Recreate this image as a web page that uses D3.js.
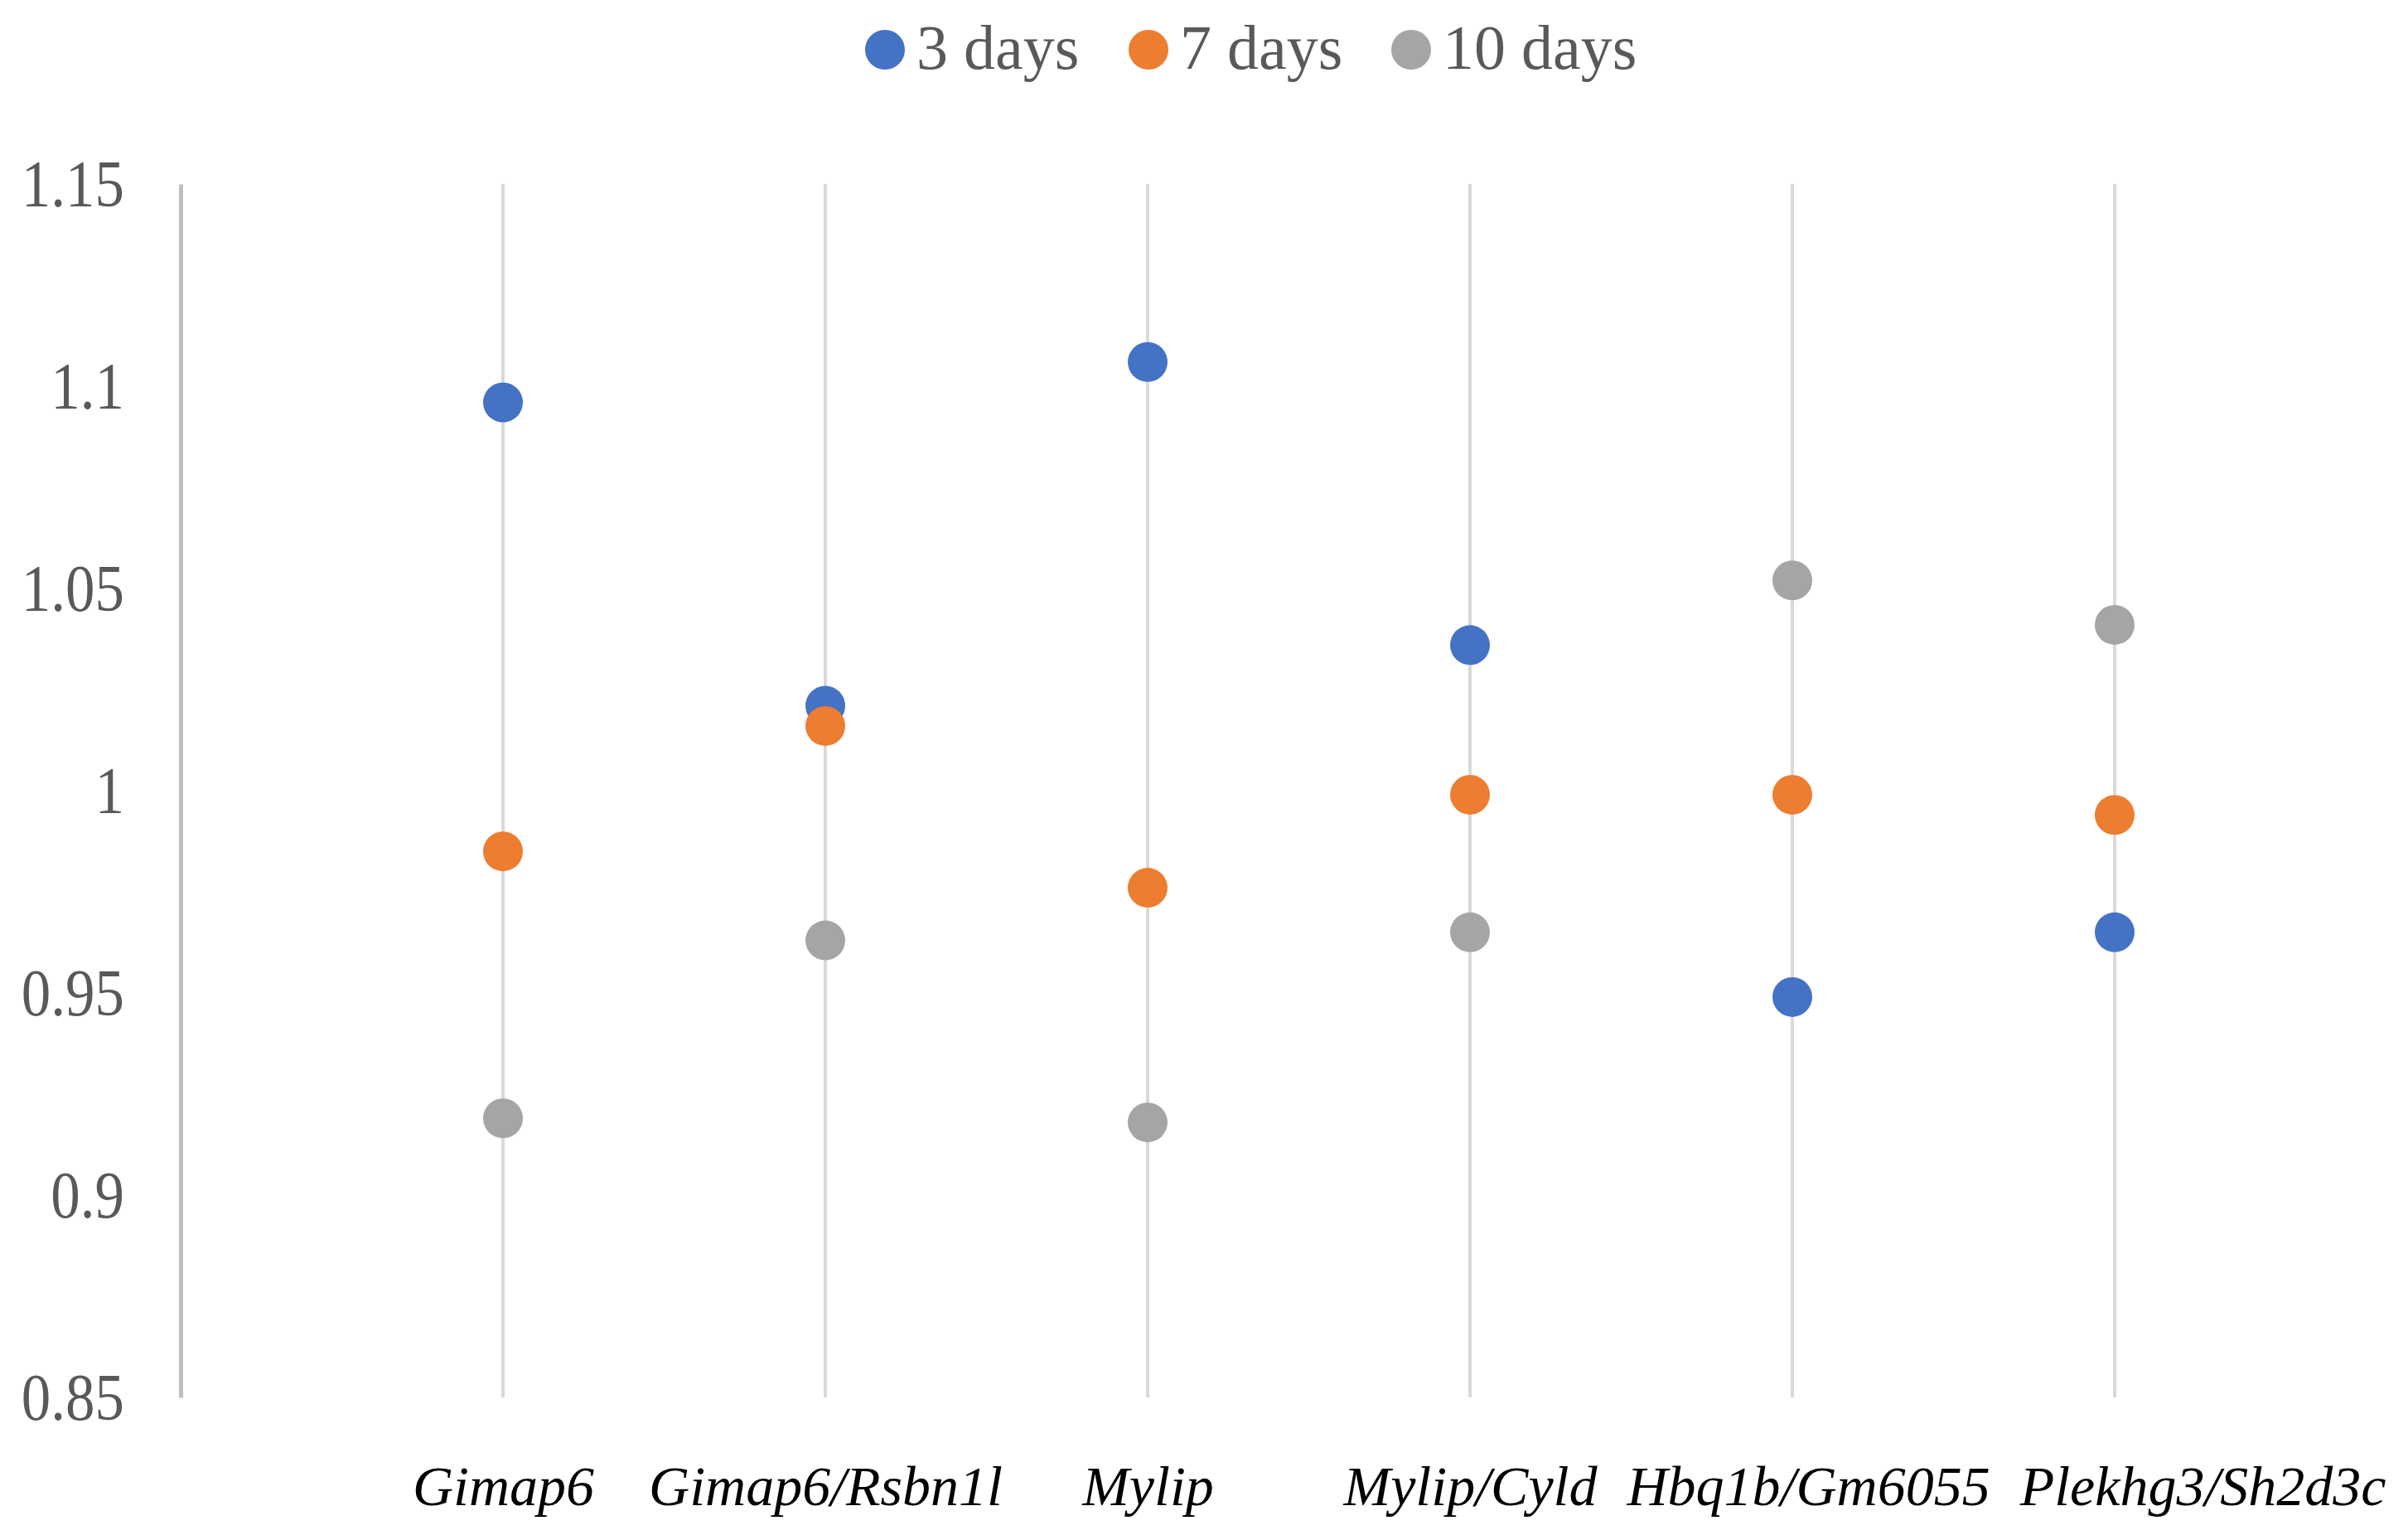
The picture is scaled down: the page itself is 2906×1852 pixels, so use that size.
<!DOCTYPE html>
<html>
<head>
<meta charset="utf-8">
<script src="https://cdn.jsdelivr.net/npm/d3@7"></script>
<style>
  html, body { margin: 0; padding: 0; background: #fff; }
  svg { display: block; }
</style>
</head>
<body>
<svg id="chart" width="2906" height="1852"></svg>
<script>
const categories = ["Gimap6", "Gimap6/Rsbn1l", "Mylip", "Mylip/Cyld", "Hbq1b/Gm6055", "Plekhg3/Sh2d3c"];
const seriesNames = ["3 days", "7 days", "10 days"];
const days3 = [1.096, 1.021, 1.106, 1.036, 0.949, 0.965];
const days7 = [0.985, 1.016, 0.976, 0.999, 0.999, 0.994];
const days10 = [0.919, 0.963, 0.918, 0.965, 1.052, 1.041];
const yTicks = [0.85, 0.9, 0.95, 1, 1.05, 1.1, 1.15];
const colors = ["#4472C4", "#ED7D31", "#A5A5A5"];

const seriesValues = [days3, days7, days10];

const svg = d3.select("#chart");
const serif = "'Liberation Serif', 'Times New Roman', serif";

const x = d3.scaleLinear().domain([0, 6]).range([218, 2552]);
const y = d3.scaleLinear().domain([0.85, 1.15]).range([1686, 222]);

// vertical category gridlines
svg.append("g")
  .selectAll("line")
  .data(categories)
  .join("line")
  .attr("x1", (d, i) => x(i + 1))
  .attr("x2", (d, i) => x(i + 1))
  .attr("y1", y(1.15))
  .attr("y2", y(0.85))
  .attr("stroke", "#d9d9d9")
  .attr("stroke-width", 4);

// y axis
const yAxis = d3.axisLeft(y)
  .tickValues(yTicks)
  .tickSize(0)
  .tickPadding(68)
  .tickFormat(d => String(+d.toFixed(2)));
const yg = svg.append("g").attr("transform", `translate(${x(0)},0)`).call(yAxis);
yg.select(".domain").attr("stroke", "#bfbfbf").attr("stroke-width", 5);
yg.selectAll("text")
  .attr("font-family", serif)
  .attr("font-size", 71)
  .attr("fill", "#595959")
  .attr("dy", "0.33em")
  .attr("transform", "scale(1,1.12)");

// x axis labels
const xAxis = d3.axisBottom(x)
  .tickValues(d3.range(1, categories.length + 1))
  .tickSize(0)
  .tickPadding(0)
  .tickFormat(d => categories[d - 1]);
const xg = svg.append("g").attr("transform", `translate(0,1816)`).call(xAxis);
xg.select(".domain").remove();
const labels = xg.selectAll("text")
  .attr("font-family", serif)
  .attr("font-style", "italic")
  .attr("font-size", 68)
  .attr("fill", "#000")
  .attr("dy", 0)
  .attr("y", 0);

// resolve label overlap: push labels rightward where they collide
const gap = 36;
let prevEnd = -Infinity;
labels.each(function(d) {
  const w = this.getComputedTextLength();
  const cx = x(d);
  let start = cx - w / 2;
  if (start < prevEnd + gap) start = prevEnd + gap;
  const shift = start - (cx - w / 2);
  d3.select(this).attr("x", shift);
  prevEnd = start + w;
});

// points
seriesValues.forEach((vals, s) => {
  svg.append("g")
    .selectAll("circle")
    .data(vals)
    .join("circle")
    .attr("cx", (d, i) => x(i + 1))
    .attr("cy", d => y(d))
    .attr("r", 24)
    .attr("fill", colors[s]);
});

// legend
const legendX = [1068, 1386, 1703];
const lg = svg.append("g");
seriesNames.forEach((name, s) => {
  lg.append("circle")
    .attr("cx", legendX[s])
    .attr("cy", 60)
    .attr("r", 24)
    .attr("fill", colors[s]);
  lg.append("text")
    .attr("x", legendX[s] + 38)
    .attr("y", 83)
    .attr("font-family", serif)
    .attr("font-size", 76)
    .attr("fill", "#595959")
    .text(name);
});
</script>
</body>
</html>
